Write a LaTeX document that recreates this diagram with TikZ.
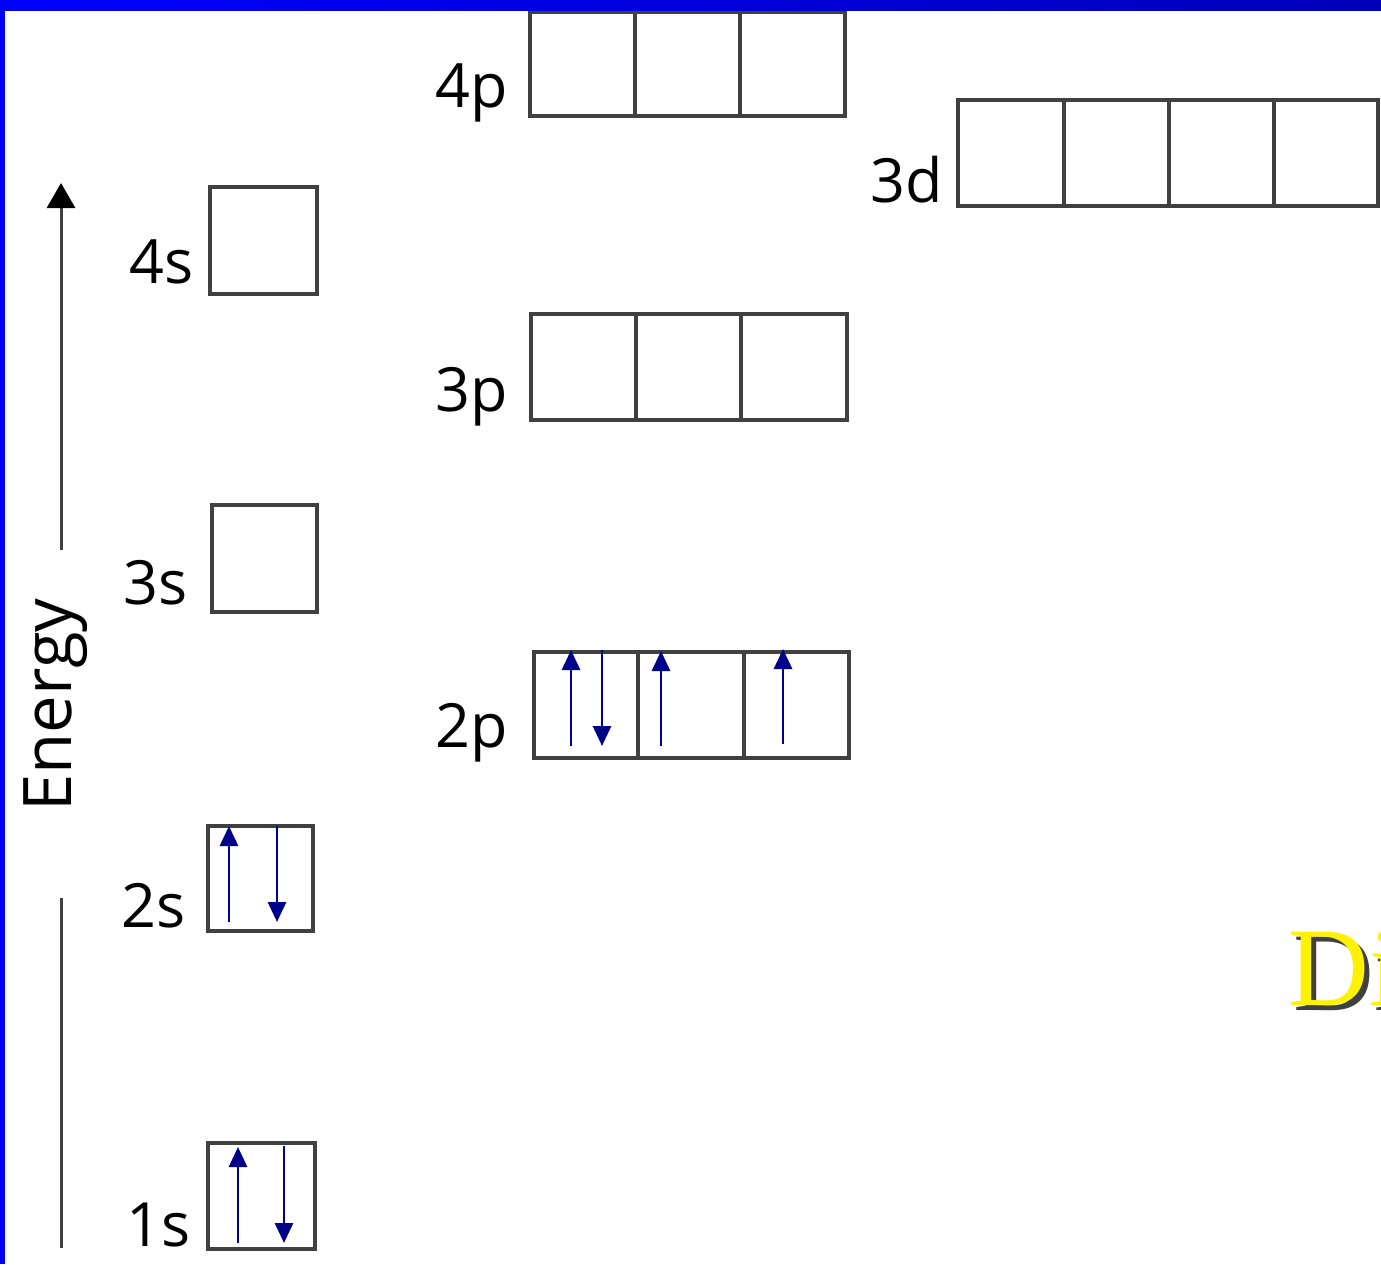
\documentclass[tikz,border=0pt]{standalone}
\usepackage{fontspec}
\setmainfont{Open Sans}
\newfontfamily\serifdi{Liberation Serif}
\usetikzlibrary{arrows.meta,calc}
\definecolor{boxline}{RGB}{64,64,64}
\definecolor{elec}{RGB}{0,0,139}
\definecolor{barblue}{RGB}{0,0,255}
\definecolor{bardark}{RGB}{0,0,185}
\tikzset{
  cell/.style={draw=boxline, line width=3.2pt, inner sep=0pt, outer sep=0pt},
  lbl/.style={font=\fontsize{61}{66}\selectfont, text=black, inner sep=0pt, anchor=base east},
  spin/.style={draw=elec, line width=2.9pt, -{Triangle[width=18pt,length=20pt]}},
  axisline/.style={draw=boxline, line width=3pt}
}
\begin{document}
\begin{tikzpicture}[x=1pt,y=-1pt]
\useasboundingbox (0,0) rectangle (1381,1264);
\clip (0,0) rectangle (1381,1264);
\fill[white] (0,0) rectangle (1381,1264);

% s orbitals
\node[cell, minimum width=107pt, minimum height=107pt] (s4) at (263.5,240.5) {};
\node[cell, minimum width=105pt, minimum height=107pt] (s3) at (264.5,558.5) {};
\node[cell, minimum width=105pt, minimum height=105pt] (s2) at (260.5,878.5) {};
\node[cell, minimum width=107pt, minimum height=106pt] (s1) at (261.5,1196) {};

% 4p
\node[cell, minimum width=105pt, minimum height=104pt] (p4a) at (582.5,64) {};
\node[cell, minimum width=105pt, minimum height=104pt] (p4b) at (687.5,64) {};
\node[cell, minimum width=105pt, minimum height=104pt] (p4c) at (792.5,64) {};
% 3p
\node[cell, minimum width=105pt, minimum height=106pt] (p3a) at (583.5,367) {};
\node[cell, minimum width=105pt, minimum height=106pt] (p3b) at (688.5,367) {};
\node[cell, minimum width=106pt, minimum height=106pt] (p3c) at (794,367) {};
% 2p
\node[cell, minimum width=104pt, minimum height=106pt] (p2a) at (586,705) {};
\node[cell, minimum width=106pt, minimum height=106pt] (p2b) at (691,705) {};
\node[cell, minimum width=105pt, minimum height=106pt] (p2c) at (796.5,705) {};
% 3d
\node[cell, minimum width=106pt, minimum height=106pt] (d3a) at (1011,153) {};
\node[cell, minimum width=105pt, minimum height=106pt] (d3b) at (1116.5,153) {};
\node[cell, minimum width=105pt, minimum height=106pt] (d3c) at (1221.5,153) {};
\node[cell, minimum width=104pt, minimum height=106pt] (d3d) at (1326,153) {};

% labels
\node[lbl] (l4s) at (194,283) {4s};
\node[lbl] (l3s) at (188,604) {3s};
\node[lbl] (l2s) at (186,927) {2s};
\node[lbl] (l1s) at (191,1246) {1s};
\node[lbl] (l4p) at (508,107) {4p};
\node[lbl] (l3p) at (508,411) {3p};
\node[lbl] (l2p) at (508,747) {2p};
\node[lbl] (l3d) at (943,202) {3d};

% energy axis
\coordinate (ebot) at (61,1248);
\coordinate (egap1) at (61,898);
\coordinate (egap2) at (61,550);
\coordinate (etop) at (61,183);
\draw[axisline] (ebot) -- (egap1);
\draw[axisline, -{Triangle[width=28pt,length=25pt,color=black]}] (egap2) -- (etop);
\node[font=\fontsize{67}{70}\selectfont, rotate=90, anchor=base, inner sep=0pt] (energy) at (71,705) {Energy};

% electrons
\draw[spin] ($(s2.south west)+(21,-9)$) -- ($(s2.north west)+(21,0)$);
\draw[spin] ($(s2.north west)+(69,0)$) -- ($(s2.south west)+(69,-9)$);
\draw[spin] ($(s1.south west)+(30,-6)$) -- ($(s1.north west)+(30,4)$);
\draw[spin] ($(s1.north west)+(76,3)$) -- ($(s1.south west)+(76,-6)$);
\draw[spin] ($(p2a.south west)+(37,-12)$) -- ($(p2a.north west)+(37,-2)$);
\draw[spin] ($(p2a.north west)+(68,-2)$) -- ($(p2a.south west)+(68,-12)$);
\draw[spin] ($(p2b.south west)+(23,-12)$) -- ($(p2b.north west)+(23,-1)$);
\draw[spin] ($(p2c.south west)+(39,-14)$) -- ($(p2c.north west)+(39,-3)$);

% yellow title fragment
\node[font=\fontsize{112}{112}\selectfont\serifdi, text=black, anchor=base west, inner sep=0pt, opacity=0.75] (dishadow) at (1293,1010) {Di};
\node[font=\fontsize{112}{112}\selectfont\serifdi, text=yellow, anchor=base west, inner sep=0pt] (di) at (1288,1005) {Di};

% blue frame
\shade[left color=barblue, right color=bardark] (0,0) rectangle (1381,10);
\fill[barblue] (0,0) rectangle (5,1264);
\end{tikzpicture}
\end{document}
